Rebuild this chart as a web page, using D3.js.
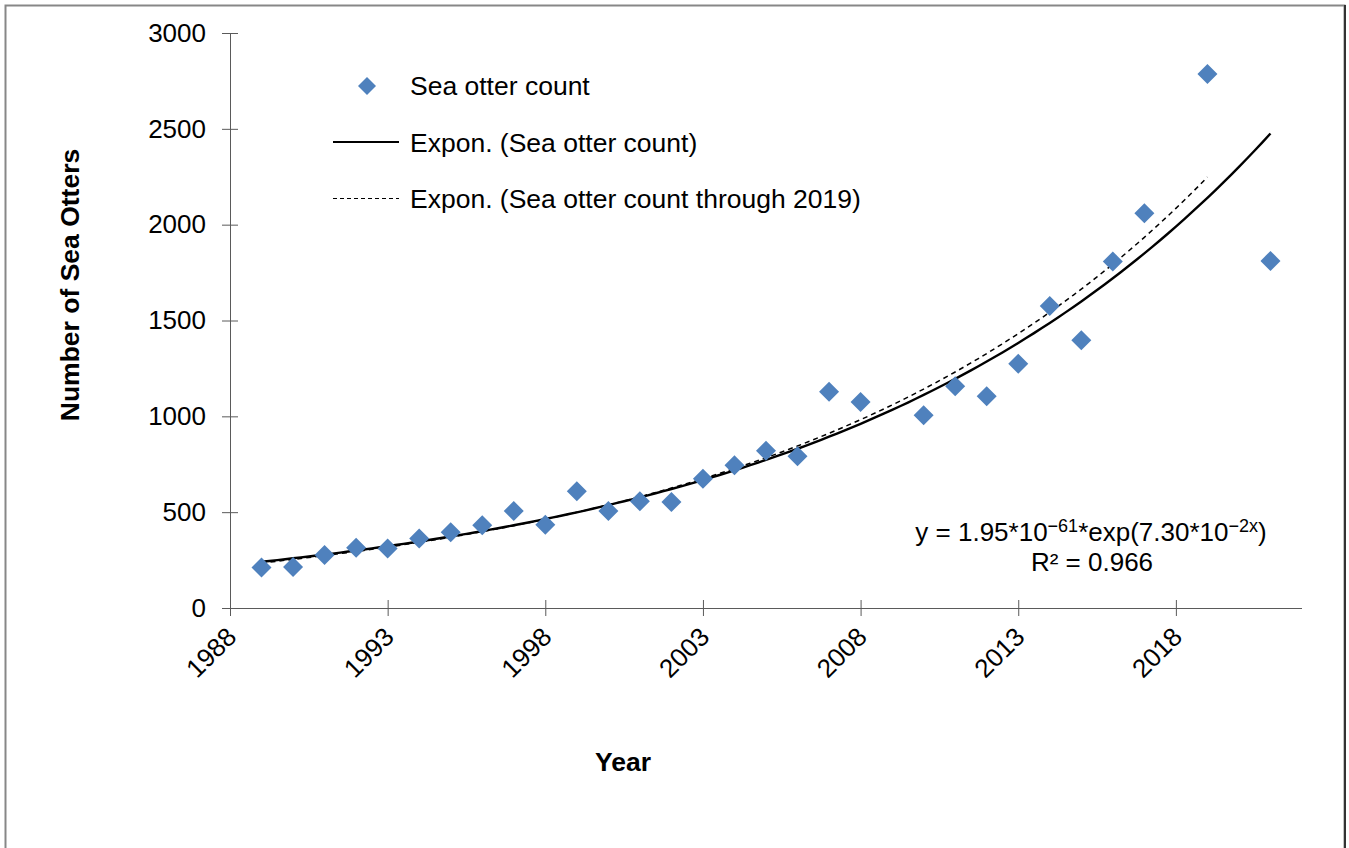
<!DOCTYPE html>
<html>
<head>
<meta charset="utf-8">
<script src="https://cdn.jsdelivr.net/npm/d3@7"></script>
<style>
  body { margin: 0; background: #fff; }
  svg { display: block; font-family: "Liberation Sans", Arial, sans-serif; }
</style>
</head>
<body>
<div id="chart"></div>
<script>
// Sea otter survey counts
const years  = [1989, 1990, 1991, 1992, 1993, 1994, 1995, 1996, 1997, 1998, 1999, 2000,
                2001, 2002, 2003, 2004, 2005, 2006, 2007, 2008, 2010, 2011, 2012, 2013,
                2014, 2015, 2016, 2017, 2019, 2021];
const counts = [211, 214, 277, 315, 310, 362, 395, 432, 506, 435, 609, 506,
                557, 553, 675, 745, 820, 792, 1128, 1075, 1006, 1157, 1105, 1274,
                1576, 1397, 1808, 2059, 2786, 1811];

const xTicks = [1988, 1993, 1998, 2003, 2008, 2013, 2018];
const yTicks = [0, 500, 1000, 1500, 2000, 2500, 3000];

const legendItems = ['Sea otter count', 'Expon. (Sea otter count)', 'Expon. (Sea otter count through 2019)'];

const width = 1349, height = 848;
const margin = { left: 230, top: 33, right: 47, bottom: 240 };

// Excel-style exponential trendline: linear fit on ln(y)
function expFit(xs, ys) {
    const ly = ys.map(Math.log);
    const mx = d3.mean(xs), my = d3.mean(ly);
    let sxy = 0, sxx = 0;
    xs.forEach((x, i) => { sxy += (x - mx) * (ly[i] - my); sxx += (x - mx) * (x - mx); });
    const b = sxy / sxx;
    const a = my - b * mx;
    return x => Math.exp(a + b * x);
}

const svg = d3.select('#chart').append('svg')
    .attr('width', width)
    .attr('height', height);

// outer chart frame
svg.append('rect')
    .attr('x', 5.5).attr('y', 5.5)
    .attr('width', 1339).attr('height', 900)
    .attr('fill', 'none')
    .attr('stroke', '#878787')
    .attr('stroke-width', 2);
svg.append('line')
    .attr('x1', 1345).attr('x2', 1345).attr('y1', 5).attr('y2', height)
    .attr('stroke', '#333').attr('stroke-width', 2);

const x = d3.scaleLinear().domain([1988, 2022]).range([margin.left, width - margin.right]);
const y = d3.scaleLinear().domain([0, 3000]).range([height - margin.bottom, margin.top]);

const axisColor = '#5a5a5a';

// y axis
const yAxis = svg.append('g')
    .attr('transform', `translate(${margin.left},0)`)
    .call(d3.axisLeft(y).tickValues(yTicks).tickSize(8).tickPadding(16).tickFormat(d3.format('d')));
yAxis.selectAll('.tick line').attr('x2', 8).attr('x1', -8).attr('stroke', axisColor);
yAxis.select('.domain').attr('stroke', axisColor).attr('d', `M0.5,${y(3000)}V${y(0)}`);
yAxis.selectAll('text').attr('font-size', 26).attr('fill', '#000')
    .attr('font-family', '"Liberation Sans", Arial, sans-serif');

// x axis
const xAxis = svg.append('g')
    .attr('transform', `translate(0,${y(0)})`)
    .call(d3.axisBottom(x).tickValues(xTicks).tickSize(8).tickFormat(d3.format('d')));
xAxis.selectAll('.tick line').attr('y1', -8).attr('y2', 8).attr('stroke', axisColor);
xAxis.select('.domain').attr('stroke', axisColor).attr('d', `M${x(1988)},0.5H${x(2022)}`);
xAxis.selectAll('text')
    .attr('font-size', 26).attr('fill', '#000')
    .attr('font-family', '"Liberation Sans", Arial, sans-serif')
    .attr('text-anchor', 'end')
    .attr('dy', '0.35em')
    .attr('y', 0)
    .attr('transform', 'translate(1,24) rotate(-45)');

// trendlines
const fitAll = expFit(years, counts);
const years2019 = years.filter(d => d <= 2019);
const fit2019 = expFit(years2019, counts.slice(0, years2019.length));

const line = f => d3.line().x(d => x(d)).y(d => y(f(d)));

svg.append('path')
    .datum(d3.range(years[0], 2021.001, 0.25))
    .attr('d', line(fitAll))
    .attr('fill', 'none')
    .attr('stroke', '#000')
    .attr('stroke-width', 2.4);

svg.append('path')
    .datum(d3.range(years[0], 2019.001, 0.25))
    .attr('d', line(fit2019))
    .attr('fill', 'none')
    .attr('stroke', '#000')
    .attr('stroke-width', 1.5)
    .attr('stroke-dasharray', '5,4');

// points
const diamond = r => `M0,${-r}L${r},0L0,${r}L${-r},0Z`;
svg.append('g').selectAll('path')
    .data(years.map((yr, i) => ({ yr, v: counts[i] })))
    .join('path')
    .attr('transform', d => `translate(${x(d.yr)},${y(d.v)})`)
    .attr('d', diamond(10))
    .attr('fill', '#4F81BD');

// legend
const legend = svg.append('g').attr('font-size', 26.5);
legend.append('path').attr('transform', 'translate(367,86)').attr('d', diamond(9)).attr('fill', '#4F81BD');
legend.append('line').attr('x1', 333).attr('x2', 399).attr('y1', 142).attr('y2', 142)
    .attr('stroke', '#000').attr('stroke-width', 2);
legend.append('line').attr('x1', 333).attr('x2', 399).attr('y1', 198.5).attr('y2', 198.5)
    .attr('stroke', '#000').attr('stroke-width', 1.2).attr('stroke-dasharray', '4,3');
legend.selectAll('text.item')
    .data(legendItems)
    .join('text')
    .attr('class', 'item')
    .attr('x', 410)
    .attr('y', (d, i) => 95 + i * 56.5)
    .text(d => d);

// trendline equation
const eq = svg.append('text')
    .attr('x', 1091).attr('y', 541)
    .attr('text-anchor', 'middle')
    .attr('font-size', 26);
eq.append('tspan').text('y = 1.95*10');
eq.append('tspan').attr('font-size', 18).attr('dy', -9).text('\u221261');
eq.append('tspan').attr('dy', 9).text('*exp(7.30*10');
eq.append('tspan').attr('font-size', 18).attr('dy', -9).text('\u22122x');
eq.append('tspan').attr('dy', 9).text(')');

svg.append('text')
    .attr('x', 1092).attr('y', 571)
    .attr('text-anchor', 'middle')
    .attr('font-size', 26)
    .text('R\u00B2 = 0.966');

// axis titles
svg.append('text')
    .attr('x', 623).attr('y', 771)
    .attr('text-anchor', 'middle')
    .attr('font-size', 26.5)
    .attr('font-weight', 'bold')
    .text('Year');

svg.append('text')
    .attr('transform', 'translate(79,285) rotate(-90)')
    .attr('text-anchor', 'middle')
    .attr('font-size', 26.5)
    .attr('font-weight', 'bold')
    .text('Number of Sea Otters');
</script>
</body>
</html>
